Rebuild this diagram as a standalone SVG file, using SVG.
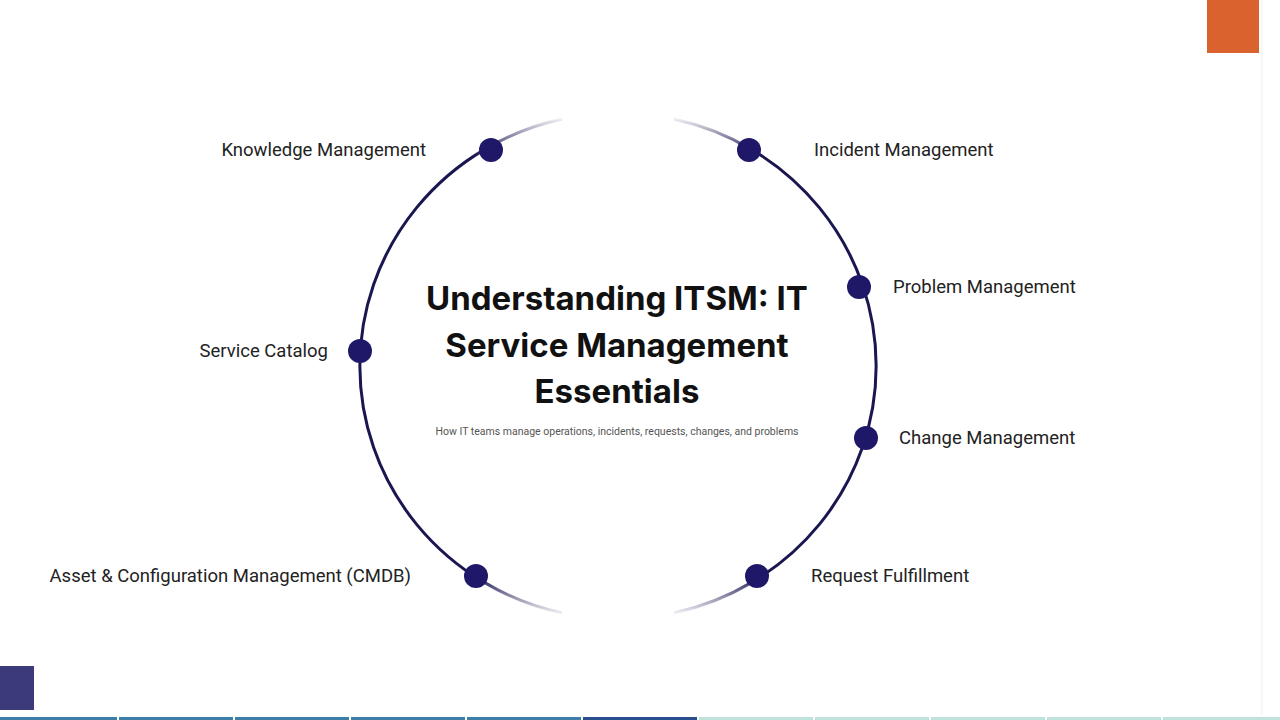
<svg xmlns="http://www.w3.org/2000/svg" width="1280" height="720" viewBox="0 0 1280 720">
<defs>
<linearGradient id="fade" gradientUnits="userSpaceOnUse" x1="0" y1="116" x2="0" y2="616">
<stop offset="0" stop-color="#1a1650" stop-opacity="0"/>
<stop offset="0.08" stop-color="#1a1650" stop-opacity="1"/>
<stop offset="0.92" stop-color="#1a1650" stop-opacity="1"/>
<stop offset="1" stop-color="#1a1650" stop-opacity="0"/>
</linearGradient>
<style>
.dot{fill:#1f1868}
.lbl{font-family:Roboto,"Liberation Sans",sans-serif;font-size:18.5px;fill:#222}
.ttl{font-family:Inter,"Liberation Sans",sans-serif;font-weight:700;font-size:33px;fill:#111;text-anchor:middle}
</style>
</defs>
<rect width="1280" height="720" fill="#fff"/>
<rect x="1207" y="0" width="52" height="53" fill="#d9622e"/>
<line x1="1262" y1="0" x2="1262" y2="715" stroke="#f0f0f0" stroke-width="1"/>
<rect x="0" y="666" width="34" height="44" fill="#3d3a7a"/>
<g id="bar">
<rect x="0" y="717" width="117" height="3" fill="#3d7fa8"/>
<rect x="119" y="717" width="114" height="3" fill="#3d7fa8"/>
<rect x="235" y="717" width="114" height="3" fill="#3d7fa8"/>
<rect x="351" y="717" width="114" height="3" fill="#3d7fa8"/>
<rect x="467" y="717" width="114" height="3" fill="#3d7fa8"/>
<rect x="583" y="717" width="114" height="3" fill="#2a4f8f"/>
<rect x="699" y="717" width="114" height="3" fill="#bfe3dc"/>
<rect x="815" y="717" width="114" height="3" fill="#bfe3dc"/>
<rect x="931" y="717" width="114" height="3" fill="#bfe3dc"/>
<rect x="1047" y="717" width="114" height="3" fill="#bfe3dc"/>
<rect x="1163" y="717" width="117" height="3" fill="#bfe3dc"/>
</g>
<g id="connectors" fill="none" stroke="url(#fade)" stroke-width="3">
<path d="M562 119 A258 253 0 0 0 562 613"/>
<path d="M674 119 A258 253 0 0 1 674 613"/>
</g>
<g id="title">
<text class="ttl" x="617" y="310">Understanding ITSM: IT</text>
<text class="ttl" x="617" y="357">Service Management</text>
<text class="ttl" x="617" y="403">Essentials</text>
<text x="617" y="435" text-anchor="middle" font-family="Roboto,'Liberation Sans',sans-serif" font-size="10.5" fill="#555">How IT teams manage operations, incidents, requests, changes, and problems</text>
</g>
<g id="n-knowledge"><circle class="dot" cx="491" cy="150" r="12"/><text class="lbl" x="426" y="156" text-anchor="end">Knowledge Management</text></g>
<g id="n-incident"><circle class="dot" cx="749" cy="150" r="12"/><text class="lbl" x="814" y="156">Incident Management</text></g>
<g id="n-problem"><circle class="dot" cx="859" cy="287" r="12"/><text class="lbl" x="893" y="293">Problem Management</text></g>
<g id="n-service"><circle class="dot" cx="360" cy="351" r="12"/><text class="lbl" x="328" y="357" text-anchor="end">Service Catalog</text></g>
<g id="n-change"><circle class="dot" cx="866" cy="438" r="12"/><text class="lbl" x="899" y="444">Change Management</text></g>
<g id="n-request"><circle class="dot" cx="757" cy="576" r="12"/><text class="lbl" x="811" y="582">Request Fulfillment</text></g>
<g id="n-asset"><circle class="dot" cx="476" cy="576" r="12"/><text class="lbl" x="411" y="582" text-anchor="end">Asset &amp; Configuration Management (CMDB)</text></g>
</svg>
